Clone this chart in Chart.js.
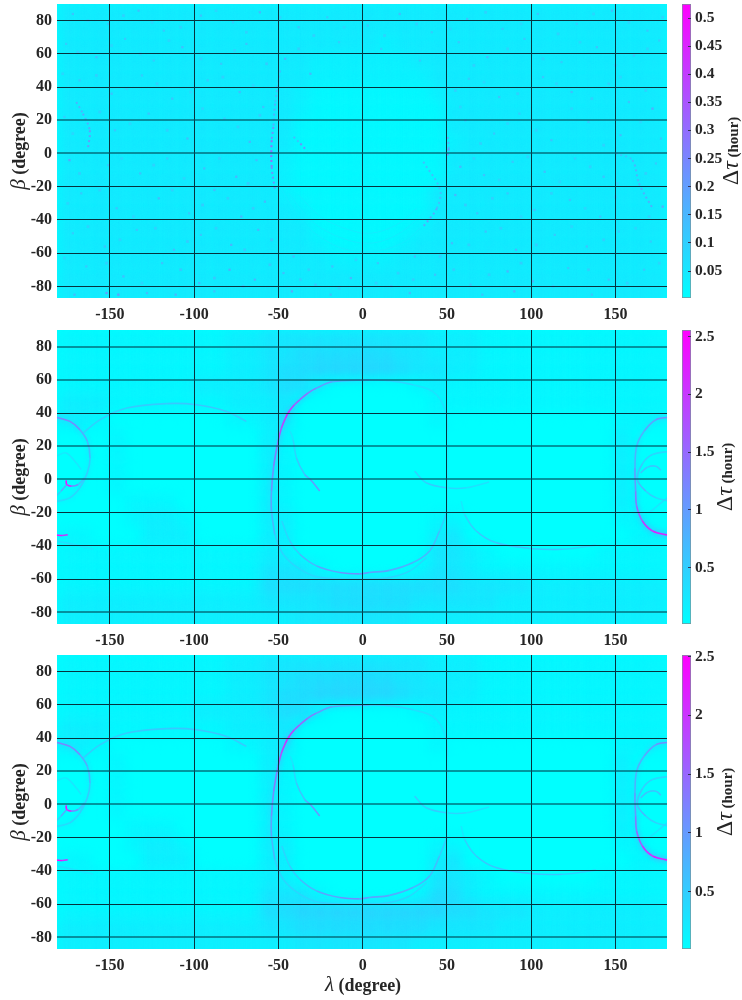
<!DOCTYPE html>
<html>
<head>
<meta charset="utf-8">
<title>Δτ sky maps</title>
<script src="https://cdn.jsdelivr.net/npm/chart.js@4/dist/chart.umd.min.js"></script>
<style>
  html, body { margin: 0; padding: 0; background: #fff; }
  body { position: relative; width: 742px; height: 1000px; overflow: hidden; }
  canvas { position: absolute; display: block; }
</style>
</head>
<body>
<canvas id="map1" style="left:0;top:0"></canvas>
<canvas id="bar1" style="left:672px;top:0"></canvas>
<canvas id="map2" style="left:0;top:326px"></canvas>
<canvas id="bar2" style="left:672px;top:326px"></canvas>
<canvas id="map3" style="left:0;top:651px"></canvas>
<canvas id="bar3" style="left:672px;top:651px"></canvas>
<script>
// axis ticks
const lambdaTicks = [-150, -100, -50, 0, 50, 100, 150];
const betaTicks = [80, 60, 40, 20, 0, -20, -40, -60, -80];
const barTicks1 = [0.05, 0.1, 0.15, 0.2, 0.25, 0.3, 0.35, 0.4, 0.45, 0.5];
const barTicks2 = [0.5, 1, 1.5, 2, 2.5];
const barTicks3 = [0.5, 1, 1.5, 2, 2.5];

// colour bar ranges (hour)
const barRange1 = [0.002, 0.525];
const barRange2 = [0.012, 2.558];
const barRange3 = [0.012, 2.515];

// grid lines that look washed out in the picture, per panel
const softBeta1 = [20, 0];
const softBeta2 = [80, 60, 20, 0, -80];
const softBeta3 = [20, 0, -80];

// background levels read per 10 x 10 degree cell, top row is beta 85, left column is lambda -175
const cellLambda = [-175, -165, -155, -145, -135, -125, -115, -105, -95, -85, -75, -65, -55, -45, -35, -25, -15, -5,
  5, 15, 25, 35, 45, 55, 65, 75, 85, 95, 105, 115, 125, 135, 145, 155, 165, 175];
const cellBeta = [85, 75, 65, 55, 45, 35, 25, 15, 5, -5, -15, -25, -35, -45, -55, -65, -75, -85];

const panel1Rows = [
  '333333333333333333333333333333333333',
  '333333333333333333333333333333333333',
  '333333333333333333323333333333333333',
  '333333333333333222222333333333333333',
  '333333333333333222222233333333333333',
  '333333333333332111111123333333333333',
  '333333333333332111111113333333333333',
  '333333333333331111111113333333333333',
  '333333333333331111111112333333333333',
  '333333333333321111111113333333333333',
  '333333333333321111111113333333333333',
  '333333333333321111111133333333333333',
  '333333333333332111111133333333333333',
  '333333333333333111111233333333333333',
  '333333333333333211112333333333333333',
  '333333333333333322223333333333333333',
  '333333333333333333333333333333333333',
  '333333333333333333333333333333333333'
];

const panel2Rows = [
  '111111111122333333333322211111111111',
  '111111111122334444443322211111111111',
  '111111111122344555554332211111111111',
  '111111112222344100000121111111111111',
  '222111111122230000000011111111111111',
  '221000000011230000000010000000000111',
  '000100000000210000000000000000000200',
  '000100000000210000000000000000000200',
  '000100000000210000000000000000000200',
  '000100000000210000000000000000000200',
  '000011100000210000000000000000000200',
  '000012210000220000000011000000000110',
  '110002220000220000000023000000000011',
  '111111111111220000000033210000001111',
  '111111111111333100000133211111111111',
  '111111111111444444444444333322222222',
  '222222222222333344444333332222222222',
  '222222222222223333333222222222222222'
];

const panel3Rows = [
  '111111111122333333333322211111111111',
  '111111111122334444443322211111111111',
  '111111111122344555554332211111111111',
  '111111112222344100000121111111111111',
  '222111111122230000000011111111111111',
  '221000000011230000000010000000000111',
  '000100000000210000000000000000000200',
  '000100000000210000000000000000000200',
  '000100000000210000000000000000000200',
  '000100000000210000000000000000000200',
  '000011100000210000000000000000000200',
  '000012210000220000000011000000000110',
  '110002220000220000000023000000000011',
  '111111111111220000000033210000001111',
  '111111111111333100000144211111111111',
  '111111111111445555555554433322222222',
  '222222222222334444444433332222222222',
  '222222222222223333333222222222222222'
];

// hours per background level, per panel
const levelHours1 = 0.017;
const levelHours2 = 0.1;
const levelHours3 = 0.1;

// features of the two lower panels, as [lambda, beta, hours]
const mainArc = [
  [4, 60, 0.8], [-18, 58.8, 1.0], [-27.5, 55, 1.3], [-32.5, 52, 1.5], [-37.3, 48, 1.6], [-40.5, 45, 1.9], [-43.3, 41.5, 2.1], [-45.8, 37, 1.9],
  [-48.2, 31, 1.7], [-50.2, 23, 1.3], [-52.8, 8, 1.1], [-54.1, -7, 0.9], [-54.1, -19, 0.7], [-52.2, -33, 0.5]
];
const lowerInner = [
  [-48, -25, 0.4], [-43.3, -37, 0.5], [-37.3, -45, 0.7], [-27.4, -52, 0.9], [-13.6, -56, 1.1], [-1.8, -56.8, 1.0],
  [4, -56, 0.9], [16, -54.7, 0.8], [29.9, -50, 0.7], [39.7, -43, 0.65], [45.6, -31, 0.45], [49.9, -20, 0.3]
];
const rightInner = [
  [49.9, -20, 0.15], [50.5, 5, 0.12], [50.5, 29, 0.25], [48.6, 43, 0.28], [41.6, 53, 0.3], [29.9, 57, 0.4],
  [16, 59.5, 0.55], [4, 60, 0.8]
];
const lowerOuter = [
  [-52.2, -33, 0.45], [-47.2, -45, 0.4], [-37.3, -54, 0.4], [-25.5, -59, 0.45], [4, -60, 0.45], [16, -59, 0.45], [28, -55, 0.35], [38, -47, 0.25]
];
const innerHook = [
  [-43, 29, 0.25], [-41.3, 24, 0.4], [-39.3, 13, 0.55], [-34.4, 3, 0.8], [-31, 0, 1.0], [-25.5, -7, 0.2]
];
const bigArc = [
  [-165.8, 28, 0.45], [-155.9, 36, 0.48], [-140, 43, 0.52], [-116, 45.7, 0.55], [-98.6, 45, 0.55], [-80.8, 41, 0.5], [-69, 35, 0.36]
];
const leftCircle = [
  [-182, 37.5, 1.2], [-173.7, 35, 1.2], [-167.8, 30, 0.85], [-163.4, 23, 0.7], [-161.8, 13, 0.5], [-163.4, 4, 0.5],
  [-167.8, -5, 0.4], [-173.7, -11, 0.35], [-182, -13.4, 0.35]
];
const leftHook = [
  [-176, -0.6, 2.4], [-175.6, -3, 2.1], [-172.7, -4, 1.1], [-168.8, -3, 0.6], [-165, 1, 0.35]
];
const leftTail = [[-175.6, -3, 0.8], [-179, -7, 0.4], [-182, -10, 0.3]];
const leftDash = [[-182, -33.5, 2.4], [-178, -33.7, 2.0], [-175, -33.3, 0.5]];
const leftWedge = [[-182, -37, 0.3], [-172, -39, 0.25], [-160, -42, 0.15]];
const leftSmall = [[-182, 14, 0.2], [-176, 16, 0.25], [-170, 10, 0.22], [-167, 6, 0.18]];
const rightOuter = [
  [182, 37.5, 1.1], [174, 36, 0.9], [167, 29, 0.75], [162.6, 20, 0.75], [161.6, 7, 1.0], [162, -7, 1.3],
  [162.6, -16, 1.6], [166, -25, 2.0], [172, -31, 2.2], [182, -33.7, 1.9]
];
const rightCircle = [
  [182, 17, 0.4], [172, 15, 0.45], [166, 9.5, 0.55], [163, 0, 0.7], [168, -7, 0.45], [174, -11, 0.4], [182, -13, 0.4]
];
const rightHook = [[165, 4, 0.6], [169, 7.4, 0.55], [174, 8, 0.55], [177, 5.6, 0.45]];
const rightDiagonal = [[170, -20, 0.25], [176, -15, 0.3], [182, -10, 0.3]];
const lowerRightArc = [
  [58.5, -13, 0.22], [60.5, -21, 0.45], [67.4, -31, 0.55], [79, -38, 0.6], [99, -41.5, 0.55], [118.7, -42, 0.4], [138.5, -39.5, 0.2]
];
const midArc = [
  [30.8, 5, 0.45], [37.7, -2, 0.5], [49.6, -5, 0.4], [61.5, -5, 0.3], [75, -1.5, 0.16]
];
const lowerCurves = [mainArc, lowerInner, rightInner, lowerOuter, innerHook, bigArc, leftCircle, leftHook, leftTail,
  leftDash, leftWedge, leftSmall, rightOuter, rightCircle, rightHook, rightDiagonal, lowerRightArc, midArc];
const haloCurves = [mainArc, rightOuter, leftCircle];

// features of the top panel
const topLeftArc = [[-170, 31, 0.15], [-166, 24, 0.17], [-162, 14, 0.2], [-163, 3, 0.27]];
const topCentreLine = [[-49, 50, 0.12], [-52, 30, 0.16], [-53, 16, 0.22], [-54, 8, 0.3], [-54, -8, 0.22], [-52, -22, 0.13]];
const topHook = [[-41, 10, 0.13], [-37, 6, 0.22], [-33, 1.5, 0.48]];
const topRightLine = [[36, -5, 0.13], [46, -22, 0.13], [44, -33, 0.18], [36, -44, 0.18]];
const topBlob = [[50.5, 10, 0.15], [51, 3, 0.22], [50, -3, 0.16]];
const topFarRight = [[150, 0, 0.12], [160, -4, 0.15], [164, -18, 0.16], [172, -33, 0.19]];
const topCurves = [topLeftArc, topCentreLine, topHook, topRightLine, topBlob, topFarRight];

// faint concentric rings under the clean disc of the top panel
const ringOne = [[-48, -22, 0.042], [-35, -42, 0.042], [-15, -56, 0.042], [5, -59, 0.042], [25, -53, 0.042], [40, -38, 0.042]];
const ringTwo = [[-44, -24, 0.04], [-30, -41, 0.04], [-12, -51, 0.04], [5, -54, 0.04], [22, -48, 0.04], [36, -36, 0.04]];
const ringThree = [[-38, -25, 0.04], [-25, -38, 0.04], [-8, -46, 0.04], [5, -48, 0.04], [20, -43, 0.04], [32, -33, 0.04]];
const topRings = [ringOne, ringTwo, ringThree];

// brighter specks seen in the top panel, [lambda, beta, hours]
const topSpecks = [
  [-172, 84, 0.12], [-151, 78, 0.1], [-133, 86, 0.13], [-118, 74, 0.11], [-96, 83, 0.12], [-77, 79, 0.1], [-61, 85, 0.14], [-38, 76, 0.12],
  [-21, 82, 0.1], [3, 77, 0.11], [22, 84, 0.13], [41, 73, 0.1], [62, 81, 0.12], [83, 75, 0.11], [104, 84, 0.12], [127, 78, 0.1], [148, 86, 0.13], [169, 74, 0.11],
  [-176, 66, 0.1], [-158, 58, 0.13], [-141, 69, 0.11], [-124, 56, 0.1], [-107, 64, 0.13], [-84, 54, 0.11], [-69, 66, 0.12], [-46, 57, 0.15], [-31, 48, 0.14], [-14, 67, 0.1],
  [11, 63, 0.09], [34, 56, 0.1], [57, 67, 0.11], [74, 58, 0.13], [96, 69, 0.11], [118, 55, 0.1], [139, 64, 0.12], [161, 59, 0.11], [176, 68, 0.1],
  [-168, 44, 0.11], [-149, 36, 0.13], [-131, 47, 0.1], [-113, 33, 0.12], [-92, 44, 0.11], [-73, 37, 0.13], [-59, 28, 0.12], [63, 45, 0.1], [81, 34, 0.12], [107, 46, 0.11],
  [124, 37, 0.13], [146, 42, 0.1], [158, 31, 0.12], [172, 27, 0.17], [-177, 22, 0.1], [-147, 14, 0.11], [-127, 24, 0.12], [-104, 9, 0.13], [-82, 21, 0.11], [-67, 7, 0.14],
  [61, 20, 0.13], [78, 12, 0.11], [93, 24, 0.1], [112, 8, 0.12], [134, 19, 0.11], [153, 11, 0.13], [177, 9, 0.11], [-174, -4, 0.18], [-151, -7, 0.11], [-132, -12, 0.12],
  [-116, -3, 0.1], [-94, -9, 0.13], [-75, -14, 0.15], [-63, -4, 0.13], [58, -8, 0.14], [72, -13, 0.12], [89, -5, 0.11], [108, -11, 0.13], [126, -3, 0.1], [143, -14, 0.12],
  [174, -6, 0.1], [-167, -24, 0.11], [-146, -33, 0.12], [-121, -27, 0.14], [-103, -36, 0.11], [-88, -22, 0.13], [-72, -38, 0.15], [-58, -29, 0.14], [55, -25, 0.15], [68, -36, 0.12],
  [86, -24, 0.11], [102, -34, 0.13], [123, -28, 0.11], [141, -38, 0.12], [178, -32, 0.16], [-172, -48, 0.1], [-153, -56, 0.12], [-134, -46, 0.11], [-112, -58, 0.13], [-96, -49, 0.11],
  [-78, -55, 0.15], [-62, -46, 0.14], [-41, -62, 0.13], [-18, -68, 0.12], [9, -66, 0.11], [31, -62, 0.13], [53, -54, 0.13], [73, -47, 0.12], [91, -58, 0.14], [114, -49, 0.11],
  [133, -56, 0.12], [152, -47, 0.11], [171, -53, 0.1], [-164, -68, 0.11], [-142, -74, 0.13], [-119, -66, 0.12], [-97, -78, 0.14], [-79, -70, 0.16], [-64, -76, 0.15], [-47, -72, 0.13],
  [-28, -79, 0.12], [-7, -75, 0.14], [17, -80, 0.13], [43, -73, 0.12], [64, -79, 0.11], [86, -71, 0.15], [101, -77, 0.14], [122, -69, 0.11], [146, -76, 0.12], [167, -70, 0.1],
  [-171, -85, 0.14], [-152, -84, 0.2], [-145, -85, 0.2], [-128, -84, 0.13], [-111, -85, 0.15], [-88, -83, 0.12], [-42, -83, 0.17], [-19, -85, 0.12], [28, -84, 0.13], [71, -85, 0.12], [90, -83, 0.15], [136, -85, 0.11]
];

// fainter mottling of the same panel
const topMottle = [
  [-163, 80, 0.08], [-142, 83, 0.09], [-125, 79, 0.08], [-108, 76, 0.09], [-87, 86, 0.08], [-69, 73, 0.09], [-49, 82, 0.08], [-29, 71, 0.09], [-11, 76, 0.08], [13, 71, 0.08], [32, 78, 0.09],
  [52, 75, 0.08], [73, 85, 0.09], [94, 78, 0.08], [116, 72, 0.09], [137, 84, 0.08], [158, 79, 0.09], [178, 82, 0.08], [-169, 61, 0.09], [-149, 65, 0.08], [-132, 60, 0.09], [-115, 68, 0.08],
  [-96, 57, 0.09], [-76, 62, 0.08], [-57, 54, 0.1], [-38, 63, 0.09], [47, 61, 0.08], [66, 53, 0.09], [86, 63, 0.08], [107, 57, 0.09], [129, 67, 0.08], [150, 53, 0.09], [169, 63, 0.08],
  [-178, 48, 0.08], [-158, 47, 0.09], [-140, 39, 0.08], [-122, 42, 0.09], [-102, 37, 0.08], [-83, 46, 0.09], [-65, 41, 0.08], [55, 38, 0.09], [72, 43, 0.08], [92, 36, 0.09], [115, 42, 0.08],
  [136, 33, 0.09], [153, 46, 0.08], [168, 38, 0.09], [-172, 12, 0.08], [-156, 25, 0.09], [-138, 18, 0.08], [-116, 14, 0.09], [-95, 27, 0.08], [-74, 16, 0.09], [-61, 23, 0.1], [58, 28, 0.08],
  [70, 6, 0.09], [86, 18, 0.08], [103, 14, 0.09], [124, 27, 0.08], [143, 5, 0.09], [165, 19, 0.08], [-168, -12, 0.09], [-143, -3, 0.08], [-124, -7, 0.09], [-106, -15, 0.08], [-85, -3, 0.09],
  [-68, -18, 0.1], [66, -3, 0.09], [81, -16, 0.08], [98, -2, 0.09], [117, -17, 0.08], [135, -8, 0.09], [151, -18, 0.08], [168, -12, 0.09], [-175, -30, 0.08], [-156, -22, 0.09], [-136, -38, 0.08],
  [-113, -22, 0.09], [-95, -31, 0.1], [-80, -27, 0.09], [-65, -33, 0.1], [61, -31, 0.1], [77, -27, 0.09], [94, -38, 0.08], [112, -24, 0.09], [132, -33, 0.08], [150, -26, 0.09], [170, -38, 0.09],
  [-163, -44, 0.09], [-144, -52, 0.08], [-123, -45, 0.09], [-104, -53, 0.1], [-87, -45, 0.09], [-70, -58, 0.1], [-54, -52, 0.1], [-32, -70, 0.09], [-4, -64, 0.08], [21, -72, 0.09], [46, -62, 0.1],
  [63, -55, 0.09], [82, -45, 0.09], [103, -55, 0.1], [124, -44, 0.08], [143, -52, 0.09], [162, -45, 0.08], [-177, -63, 0.08], [-152, -66, 0.09], [-131, -78, 0.08], [-108, -70, 0.1], [-88, -75, 0.11],
  [-71, -80, 0.1], [-55, -67, 0.1], [-37, -76, 0.09], [-14, -81, 0.09], [8, -78, 0.09], [30, -76, 0.09], [54, -70, 0.09], [75, -73, 0.09], [94, -66, 0.1], [113, -80, 0.09], [134, -70, 0.09], [157, -78, 0.09], [176, -66, 0.08]
];

function coolColor(hours, range) {
  const v = Math.min(1, Math.max(0, hours / range[1]));
  return `rgb(${Math.round(255 * v)}, ${Math.round(255 * (1 - v))}, 255)`;
}

function cellPoints(rows, levelHours) {
  const points = [];
  rows.forEach((row, r) => {
    cellLambda.forEach((lambda, c) => {
      points.push({ x: lambda, y: cellBeta[r], v: Number(row[c]) * levelHours });
    });
  });
  return points;
}

const asPoints = list => list.map(p => ({ x: p[0], y: p[1], v: p[2] }));

function curveDataset(curve, range, width, blur, dim, order, dash) {
  return {
    data: asPoints(curve),
    order: order,
    showLine: true,
    pointRadius: 0,
    tension: 0.35,
    borderWidth: width,
    borderCapStyle: 'butt',
    borderDash: dash || [],
    blur: blur,
    segment: { borderColor: ctx => coolColor(ctx.p0.raw.v * dim, range) }
  };
}

function speckDataset(list, range, radius) {
  return {
    data: asPoints(list),
    order: 1,
    pointStyle: 'rect',
    pointRadius: radius,
    pointBorderWidth: 0,
    blur: 0.6,
    backgroundColor: ctx => coolColor(ctx.raw ? ctx.raw.v : 0, range)
  };
}

// blur is read per dataset, the picture is a soft raster
const softPlugin = {
  id: 'soft',
  beforeDatasetDraw(chart, args) {
    const blur = chart.data.datasets[args.index].blur;
    if (blur) chart.ctx.filter = `blur(${blur}px)`;
  },
  afterDatasetDraw(chart) {
    chart.ctx.filter = 'none';
  }
};

const fieldPlugin = {
  id: 'field',
  beforeDatasetsDraw(chart) {
    const a = chart.chartArea;
    chart.ctx.fillStyle = '#00ffff';
    chart.ctx.fillRect(a.left, a.top, a.width, a.height);
  }
};

const textColor = '#262626';

function drawPieces(ctx, pieces, x, y, rotate) {
  ctx.save();
  ctx.translate(x, y);
  if (rotate) ctx.rotate(-Math.PI / 2);
  ctx.fillStyle = textColor;
  ctx.textBaseline = 'alphabetic';
  ctx.textAlign = 'left';
  let total = 0;
  pieces.forEach(p => { ctx.font = p.font; total += ctx.measureText(p.text).width; });
  let at = -total / 2;
  pieces.forEach(p => {
    ctx.font = p.font;
    ctx.fillText(p.text, at, 0);
    at += ctx.measureText(p.text).width;
  });
  ctx.restore();
}

const greekFont = 'italic 21px "Liberation Serif"';
const labelFont = 'bold 18px "Liberation Serif"';
const tickFont = { family: '"Liberation Serif"', size: 16, weight: 'bold' };
const barTickFont = { family: '"Liberation Serif"', size: 15.5, weight: 'bold' };

function makeMap(id, datasets, softBeta, extraHeight, showLambda) {
  const canvas = document.getElementById(id);
  canvas.width = 668;
  canvas.height = 324 + extraHeight;
  const axisLabels = {
    id: 'axisLabels',
    afterDraw(chart) {
      drawPieces(chart.ctx, [
        { text: 'β', font: greekFont },
        { text: ' (degree)', font: labelFont }
      ], 25, 151, true);
      if (showLambda) {
        drawPieces(chart.ctx, [
          { text: 'λ', font: greekFont },
          { text: ' (degree)', font: labelFont }
        ], 363, 340, false);
      }
    }
  };
  return new Chart(canvas, {
    type: 'scatter',
    data: { datasets },
    plugins: [fieldPlugin, softPlugin, axisLabels],
    options: {
      responsive: false,
      animation: false,
      events: [],
      layout: { autoPadding: false, padding: { top: 4, right: 1, left: 0, bottom: 0 } },
      plugins: { legend: { display: false }, tooltip: { enabled: false }, title: { display: false } },
      scales: {
        x: {
          type: 'linear',
          min: -181.4,
          max: 180.6,
          afterBuildTicks: scale => { scale.ticks = lambdaTicks.map(value => ({ value })); },
          afterFit: scale => {
            scale.height = 26 + extraHeight;
            scale.paddingLeft = 0;
            scale.paddingRight = 0;
          },
          border: { display: false },
          grid: { z: 1, color: '#06323e', lineWidth: 1, drawTicks: false },
          ticks: { color: textColor, font: tickFont, padding: 7, maxRotation: 0, autoSkip: false, callback: v => String(v) }
        },
        y: {
          type: 'linear',
          min: -87,
          max: 90,
          afterBuildTicks: scale => { scale.ticks = betaTicks.map(value => ({ value })); },
          afterFit: scale => {
            scale.width = 57;
            scale.paddingTop = 0;
            scale.paddingBottom = 0;
          },
          border: { display: false },
          grid: {
            z: 1,
            drawTicks: false,
            color: ctx => (softBeta.includes(ctx.tick.value) ? 'rgba(0, 80, 95, 0.6)' : '#06323e'),
            lineWidth: ctx => (softBeta.includes(ctx.tick.value) ? 2 : 1)
          },
          ticks: { color: textColor, font: tickFont, padding: 5, autoSkip: false, callback: v => String(v) }
        }
      }
    }
  });
}

function makeBar(id, range, barTicks, labelX) {
  const canvas = document.getElementById(id);
  canvas.width = 70;
  canvas.height = 324;
  const barLabel = {
    id: 'barLabel',
    afterDraw(chart) {
      drawPieces(chart.ctx, [
        { text: 'Δ', font: '24px "Liberation Serif"' },
        { text: 'τ', font: 'italic 24px "Liberation Serif"' },
        { text: ' (hour)', font: 'bold 15px "Liberation Serif"' }
      ], labelX, 151, true);
    }
  };
  return new Chart(canvas, {
    type: 'bar',
    data: {
      labels: ['Δτ'],
      datasets: [{
        data: [range],
        barPercentage: 1,
        categoryPercentage: 1,
        borderWidth: 1,
        borderSkipped: false,
        borderColor: 'rgba(90, 120, 130, 0.8)',
        backgroundColor: ctx => {
          const a = ctx.chart.chartArea;
          if (!a) return '#00ffff';
          const g = ctx.chart.ctx.createLinearGradient(0, a.top, 0, a.bottom);
          g.addColorStop(0, '#ff00ff');
          g.addColorStop(1, '#00ffff');
          return g;
        }
      }]
    },
    plugins: [barLabel],
    options: {
      responsive: false,
      animation: false,
      events: [],
      layout: { autoPadding: false, padding: { top: 4, left: 10, right: 0, bottom: 26 } },
      plugins: { legend: { display: false }, tooltip: { enabled: false }, title: { display: false } },
      scales: {
        x: { display: false },
        y: {
          position: 'right',
          min: range[0],
          max: range[1],
          afterBuildTicks: scale => { scale.ticks = barTicks.map(value => ({ value })); },
          afterFit: scale => {
            scale.width = 51;
            scale.paddingTop = 0;
            scale.paddingBottom = 0;
          },
          border: { display: false },
          grid: { z: 1, drawOnChartArea: false, tickLength: -3, color: '#335', lineWidth: 1 },
          ticks: { color: textColor, font: barTickFont, padding: 7, autoSkip: false, callback: v => String(v) }
        }
      }
    }
  });
}

// lower order is painted later, so the cells go under everything
function cellDataset(rows, levelHours, range) {
  return {
    data: cellPoints(rows, levelHours),
    order: 10,
    pointStyle: 'rect',
    pointRadius: 12.7,
    pointBorderWidth: 0,
    blur: 7,
    backgroundColor: ctx => coolColor(ctx.raw ? ctx.raw.v : 0, range)
  };
}

function lowerDatasets(rows, levelHours, range) {
  return [
    cellDataset(rows, levelHours, range),
    ...haloCurves.map(c => curveDataset(c, range, 5, 2, 0.25, 5)),
    ...lowerCurves.map(c => curveDataset(c, range, 1.6, 0.5, 1, 1))
  ];
}

const topDatasets = [
  cellDataset(panel1Rows, levelHours1, barRange1),
  ...topRings.map(c => curveDataset(c, barRange1, 1, 0.5, 1, 3)),
  ...topCurves.map(c => curveDataset(c, barRange1, 2, 0.6, 1, 2, [2, 3])),
  speckDataset(topMottle, barRange1, 2),
  speckDataset(topSpecks, barRange1, 1.6)
];

makeMap('map1', topDatasets, softBeta1, 0, false);
makeBar('bar1', barRange1, barTicks1, 66);
makeMap('map2', lowerDatasets(panel2Rows, levelHours2, barRange2), softBeta2, 0, false);
makeBar('bar2', barRange2, barTicks2, 60);
makeMap('map3', lowerDatasets(panel3Rows, levelHours3, barRange3), softBeta3, 25, true);
makeBar('bar3', barRange3, barTicks3, 60);
</script>
</body>
</html>
